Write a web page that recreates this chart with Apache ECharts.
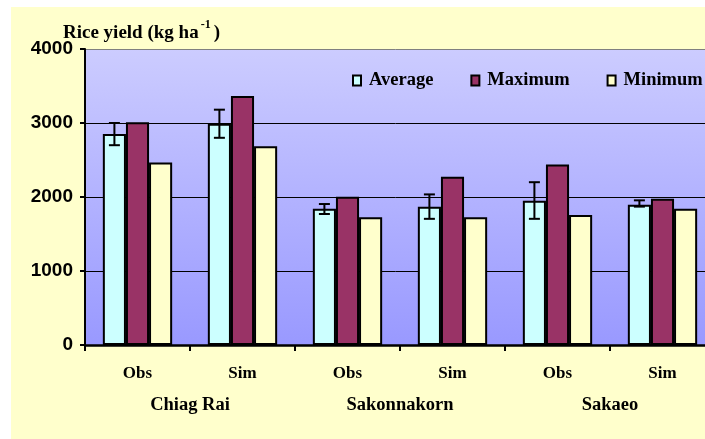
<!DOCTYPE html>
<html>
<head>
<meta charset="utf-8">
<script src="https://cdn.jsdelivr.net/npm/echarts@6/dist/echarts.min.js"></script>
<style>
html,body{margin:0;padding:0;background:#fff;}
#c{width:705px;height:439px;}
</style>
</head>
<body>
<div id="c"></div>
<script>
const groups = ['Obs', 'Sim', 'Obs', 'Sim', 'Obs', 'Sim'];
const regions = ['Chiag Rai', 'Sakonnakorn', 'Sakaeo'];
const average = [2850, 2990, 1840, 1867, 1948, 1894];
const maximum = [3010, 3365, 2003, 2275, 2438, 1976];
const minimum = [2465, 2687, 1725, 1725, 1758, 1840];
const errLow  = [2700, 2800, 1770, 1705, 1705, 1870];
const errHigh = [3000, 3180, 1905, 2035, 2200, 1955];
const yTicks = [0, 1000, 2000, 3000, 4000];

const SERIF = "'Liberation Serif','Times New Roman',serif";
const SANS = "'Liberation Sans',Arial,sans-serif";
const CAT_GAP = 0.34;

const chart = echarts.init(document.getElementById('c'), null, {renderer: 'canvas'});

const errData = average.map((v, i) => [i, errLow[i], errHigh[i]]);

chart.setOption({
  animation: false,
  backgroundColor: '#ffffff',
  graphic: [{
    type: 'rect', left: 11, top: 7, z: -10,
    shape: {width: 700, height: 440},
    style: {fill: '#FFFFCC'}
  }],
  title: {
    text: 'Rice yield (kg ha{sup|-1}{a|)}',
    left: 58, top: 14,
    textStyle: {
      fontFamily: SERIF, fontWeight: 'bold', fontSize: 19, color: '#000',
      rich: {
        sup: {fontFamily: SERIF, fontWeight: 'bold', fontSize: 12, color: '#000', padding: [0, 3, 16, 2]},
        a: {fontFamily: SERIF, fontWeight: 'bold', fontSize: 19, color: '#000'}
      }
    }
  },
  legend: {
    data: ['Average', 'Maximum', 'Minimum'],
    left: 352, top: 71, width: 400, padding: 0,
    orient: 'horizontal',
    icon: 'rect',
    itemWidth: 8, itemHeight: 10,
    itemGap: 37,
    itemStyle: {borderColor: '#000', borderWidth: 2},
    textStyle: {fontFamily: SERIF, fontWeight: 'bold', fontSize: 18.5, color: '#000', padding: [0, 0, 0, 3]}
  },
  grid: {
    left: 85, top: 49, width: 630, height: 296,
    outerBoundsMode: 'none', containLabel: false,
    show: true, borderWidth: 0,
    backgroundColor: new echarts.graphic.LinearGradient(0, 0, 0, 1, [
      {offset: 0, color: '#CCCCFF'}, {offset: 1, color: '#9999FF'}
    ])
  },
  xAxis: [{
    type: 'category', data: groups, position: 'bottom',
    axisLine: {lineStyle: {color: '#000', width: 2.5}},
    axisTick: {show: true, length: 6, lineStyle: {color: '#000', width: 2}},
    axisLabel: {margin: 20, fontFamily: SERIF, fontWeight: 'bold', fontSize: 17, color: '#000'}
  }, {
    type: 'category', data: regions, position: 'bottom',
    axisLine: {show: false}, axisTick: {show: false},
    axisLabel: {margin: 51, fontFamily: SERIF, fontWeight: 'bold', fontSize: 18.5, color: '#000'}
  }],
  yAxis: {
    type: 'value', min: yTicks[0], max: yTicks[yTicks.length - 1], interval: 1000,
    axisLine: {show: true, lineStyle: {color: '#000', width: 2}},
    axisTick: {show: true, length: 5, lineStyle: {color: '#000', width: 2}},
    axisLabel: {margin: 12, fontFamily: SANS, fontWeight: 'bold', fontSize: 19, color: '#000', padding: [3, 0, 0, 0],
      formatter: function (v) { return String(v); }},
    splitLine: {show: true, lineStyle: {color: ['#000', '#000', '#000', '#000', '#808080'], width: 1}}
  },
  series: [{
    name: 'Average', type: 'bar', data: average,
    barGap: '0%', barCategoryGap: (CAT_GAP * 100) + '%',
    itemStyle: {color: '#CCFFFF', borderColor: '#000', borderWidth: 2}
  }, {
    name: 'Maximum', type: 'bar', data: maximum,
    itemStyle: {color: '#993366', borderColor: '#000', borderWidth: 2}
  }, {
    name: 'Minimum', type: 'bar', data: minimum,
    itemStyle: {color: '#FFFFCC', borderColor: '#000', borderWidth: 2}
  }, {
    name: 'err', type: 'custom', data: errData, z: 10,
    encode: {x: 0, y: [1, 2]},
    renderItem: function (params, api) {
      const i = api.value(0);
      const band = api.size([1, 0])[0];
      const off = -band * (1 - CAT_GAP) / 3;
      const top = api.coord([i, api.value(2)]);
      const bot = api.coord([i, api.value(1)]);
      const x = top[0] + off;
      const cap = 5.5;
      const st = {stroke: '#000', lineWidth: 2};
      return {
        type: 'group',
        children: [
          {type: 'line', shape: {x1: x, y1: top[1], x2: x, y2: bot[1]}, style: st},
          {type: 'line', shape: {x1: x - cap, y1: top[1], x2: x + cap, y2: top[1]}, style: st},
          {type: 'line', shape: {x1: x - cap, y1: bot[1], x2: x + cap, y2: bot[1]}, style: st}
        ]
      };
    }
  }]
});
</script>
</body>
</html>
